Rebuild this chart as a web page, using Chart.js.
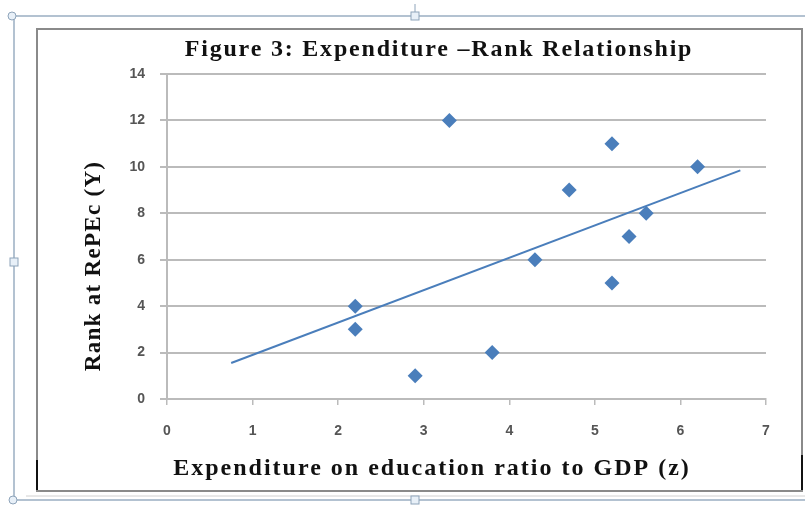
<!DOCTYPE html>
<html>
<head>
<meta charset="utf-8">
<script src="https://cdn.jsdelivr.net/npm/chart.js@4.4.1/dist/chart.umd.min.js"></script>
<style>
  html, body { margin: 0; padding: 0; background: #ffffff; }
  #wrap { width: 805px; height: 506px; }
</style>
</head>
<body>
<div id="wrap"><canvas id="c" width="805" height="506"></canvas></div>
<script>
// ---- data ----
const expenditure = [3.3, 5.2, 6.2, 4.7, 5.6, 5.4, 4.3, 5.2, 2.2, 2.2, 3.8, 2.9];
const rank        = [12, 11, 10, 9, 8, 7, 6, 5, 4, 3, 2, 1];
const trendX      = [0.75, 6.7];
const trendY      = [1.55, 9.85];
const xTicks      = [0, 1, 2, 3, 4, 5, 6, 7];
const yTicks      = [0, 2, 4, 6, 8, 10, 12, 14];
const chartTitle  = 'Figure 3: Expenditure \u2013Rank Relationship';
const xTitle      = 'Expenditure on education ratio to GDP (z)';
const yTitle      = 'Rank at RePEc (Y)';

const points = expenditure.map((v, i) => ({ x: v, y: rank[i] }));
const trend  = trendX.map((v, i) => ({ x: v, y: trendY[i] }));

const BLUE = '#4A7EBB';
const GRID = '#BBBBBB';
const TICK_COL = '#555555';
const SERIF = "'Liberation Serif', 'Times New Roman', serif";

// frame decoration (document-style borders around the chart)
const framePlugin = {
  id: 'frame',
  beforeDraw(chart) {
    const c = chart.ctx;
    c.save();
    c.fillStyle = '#ffffff';
    c.fillRect(0, 0, chart.width, chart.height);
    // selection frame
    c.strokeStyle = '#9AAEC2';
    c.lineWidth = 1.5;
    c.beginPath();
    c.moveTo(13, 16); c.lineTo(805, 16);
    c.moveTo(14, 16); c.lineTo(14, 500);
    c.moveTo(14, 500); c.lineTo(805, 500);
    c.stroke();
    // chart border
    c.strokeStyle = '#8A8A8A';
    c.lineWidth = 2;
    c.strokeRect(37, 29, 765, 462);
    c.strokeStyle = '#D0D0D0';
    c.lineWidth = 1;
    c.beginPath();
    c.moveTo(26, 496); c.lineTo(805, 496);
    c.stroke();
    // black marks at lower corners
    c.strokeStyle = '#111111';
    c.lineWidth = 2;
    c.beginPath();
    c.moveTo(37, 460); c.lineTo(37, 490);
    c.moveTo(802, 455); c.lineTo(802, 490);
    c.stroke();
    // handles
    c.fillStyle = '#E8F0F8';
    c.strokeStyle = '#8EA4BA';
    c.lineWidth = 1;
    const circ = (x, y) => { c.beginPath(); c.arc(x, y, 4, 0, Math.PI * 2); c.fill(); c.stroke(); };
    const sq = (x, y) => { c.fillRect(x - 4, y - 4, 8, 8); c.strokeRect(x - 4, y - 4, 8, 8); };
    circ(12, 16); circ(13, 500);
    sq(415, 16); sq(14, 262); sq(415, 500);
    c.beginPath(); c.moveTo(415, 4); c.lineTo(415, 12); c.stroke();
    c.restore();

    // text spacing / placement tweaks for titles
    const patch = (obj, method, fn) => {
      if (!obj || obj['__p_' + method]) return;
      const orig = obj[method];
      obj[method] = function (...a) {
        const ctx = this.ctx;
        ctx.save();
        fn(ctx);
        const r = orig.apply(this, a);
        ctx.restore();
        return r;
      };
      obj['__p_' + method] = true;
    };
    patch(chart.titleBlock, 'draw', ctx => { ctx.letterSpacing = '1.8px'; ctx.translate(56, 0); });
    patch(chart.scales.x, 'drawTitle', ctx => { ctx.letterSpacing = '2px'; ctx.translate(-34.5, 0); });
    patch(chart.scales.y, 'drawTitle', ctx => { ctx.letterSpacing = '1.3px'; ctx.translate(0, 29.5); });
  }
};

new Chart(document.getElementById('c'), {
  type: 'scatter',
  data: {
    datasets: [
      {
        label: 'Rank',
        data: points,
        backgroundColor: BLUE,
        borderColor: BLUE,
        pointStyle: 'rectRot',
        pointRadius: 7.5,
        pointHoverRadius: 7.5,
        borderWidth: 0,
        order: 1
      },
      {
        label: 'Linear trend',
        data: trend,
        showLine: true,
        borderColor: BLUE,
        borderWidth: 2,
        pointRadius: 0,
        fill: false,
        order: 2
      }
    ]
  },
  options: {
    responsive: false,
    animation: false,
    events: [],
    layout: { padding: { left: 0, right: 39, top: 0, bottom: 0 } },
    plugins: {
      legend: { display: false },
      tooltip: { enabled: false },
      title: {
        display: true,
        text: chartTitle,
        color: '#111111',
        font: { family: SERIF, size: 24, weight: 'bold', lineHeight: 1.2 },
        padding: { top: 35.1, bottom: 10.1 }
      }
    },
    scales: {
      x: {
        type: 'linear',
        min: 0, max: 7,
        afterFit(scale) { scale.height = 107; },
        afterBuildTicks(scale) { scale.ticks = xTicks.map(v => ({ value: v })); },
        ticks: {
          color: TICK_COL,
          font: { family: "'Liberation Sans', Arial, sans-serif", size: 14, weight: 'bold' },
          padding: 18
        },
        grid: { drawOnChartArea: false, drawTicks: true, tickLength: 6, color: GRID, lineWidth: 1.5 },
        border: { display: true, color: GRID, width: 2 },
        title: {
          display: true,
          text: xTitle,
          color: '#111111',
          font: { family: SERIF, size: 24, weight: 'bold', lineHeight: 1.2 },
          padding: { top: 0, bottom: 22.6 }
        }
      },
      y: {
        type: 'linear',
        min: 0, max: 14,
        afterFit(scale) { scale.width = 167; },
        afterBuildTicks(scale) { scale.ticks = yTicks.map(v => ({ value: v })); },
        ticks: {
          color: TICK_COL,
          font: { family: "'Liberation Sans', Arial, sans-serif", size: 14, weight: 'bold' },
          padding: 15
        },
        grid: { drawOnChartArea: true, drawTicks: true, tickLength: 7, color: GRID, lineWidth: 2 },
        border: { display: true, color: GRID, width: 2 },
        title: {
          display: true,
          text: yTitle,
          color: '#111111',
          font: { family: SERIF, size: 23, weight: 'bold', lineHeight: 1.2 },
          padding: { top: 80.2, bottom: 0 }
        }
      }
    }
  },
  plugins: [framePlugin]
});
</script>
</body>
</html>
